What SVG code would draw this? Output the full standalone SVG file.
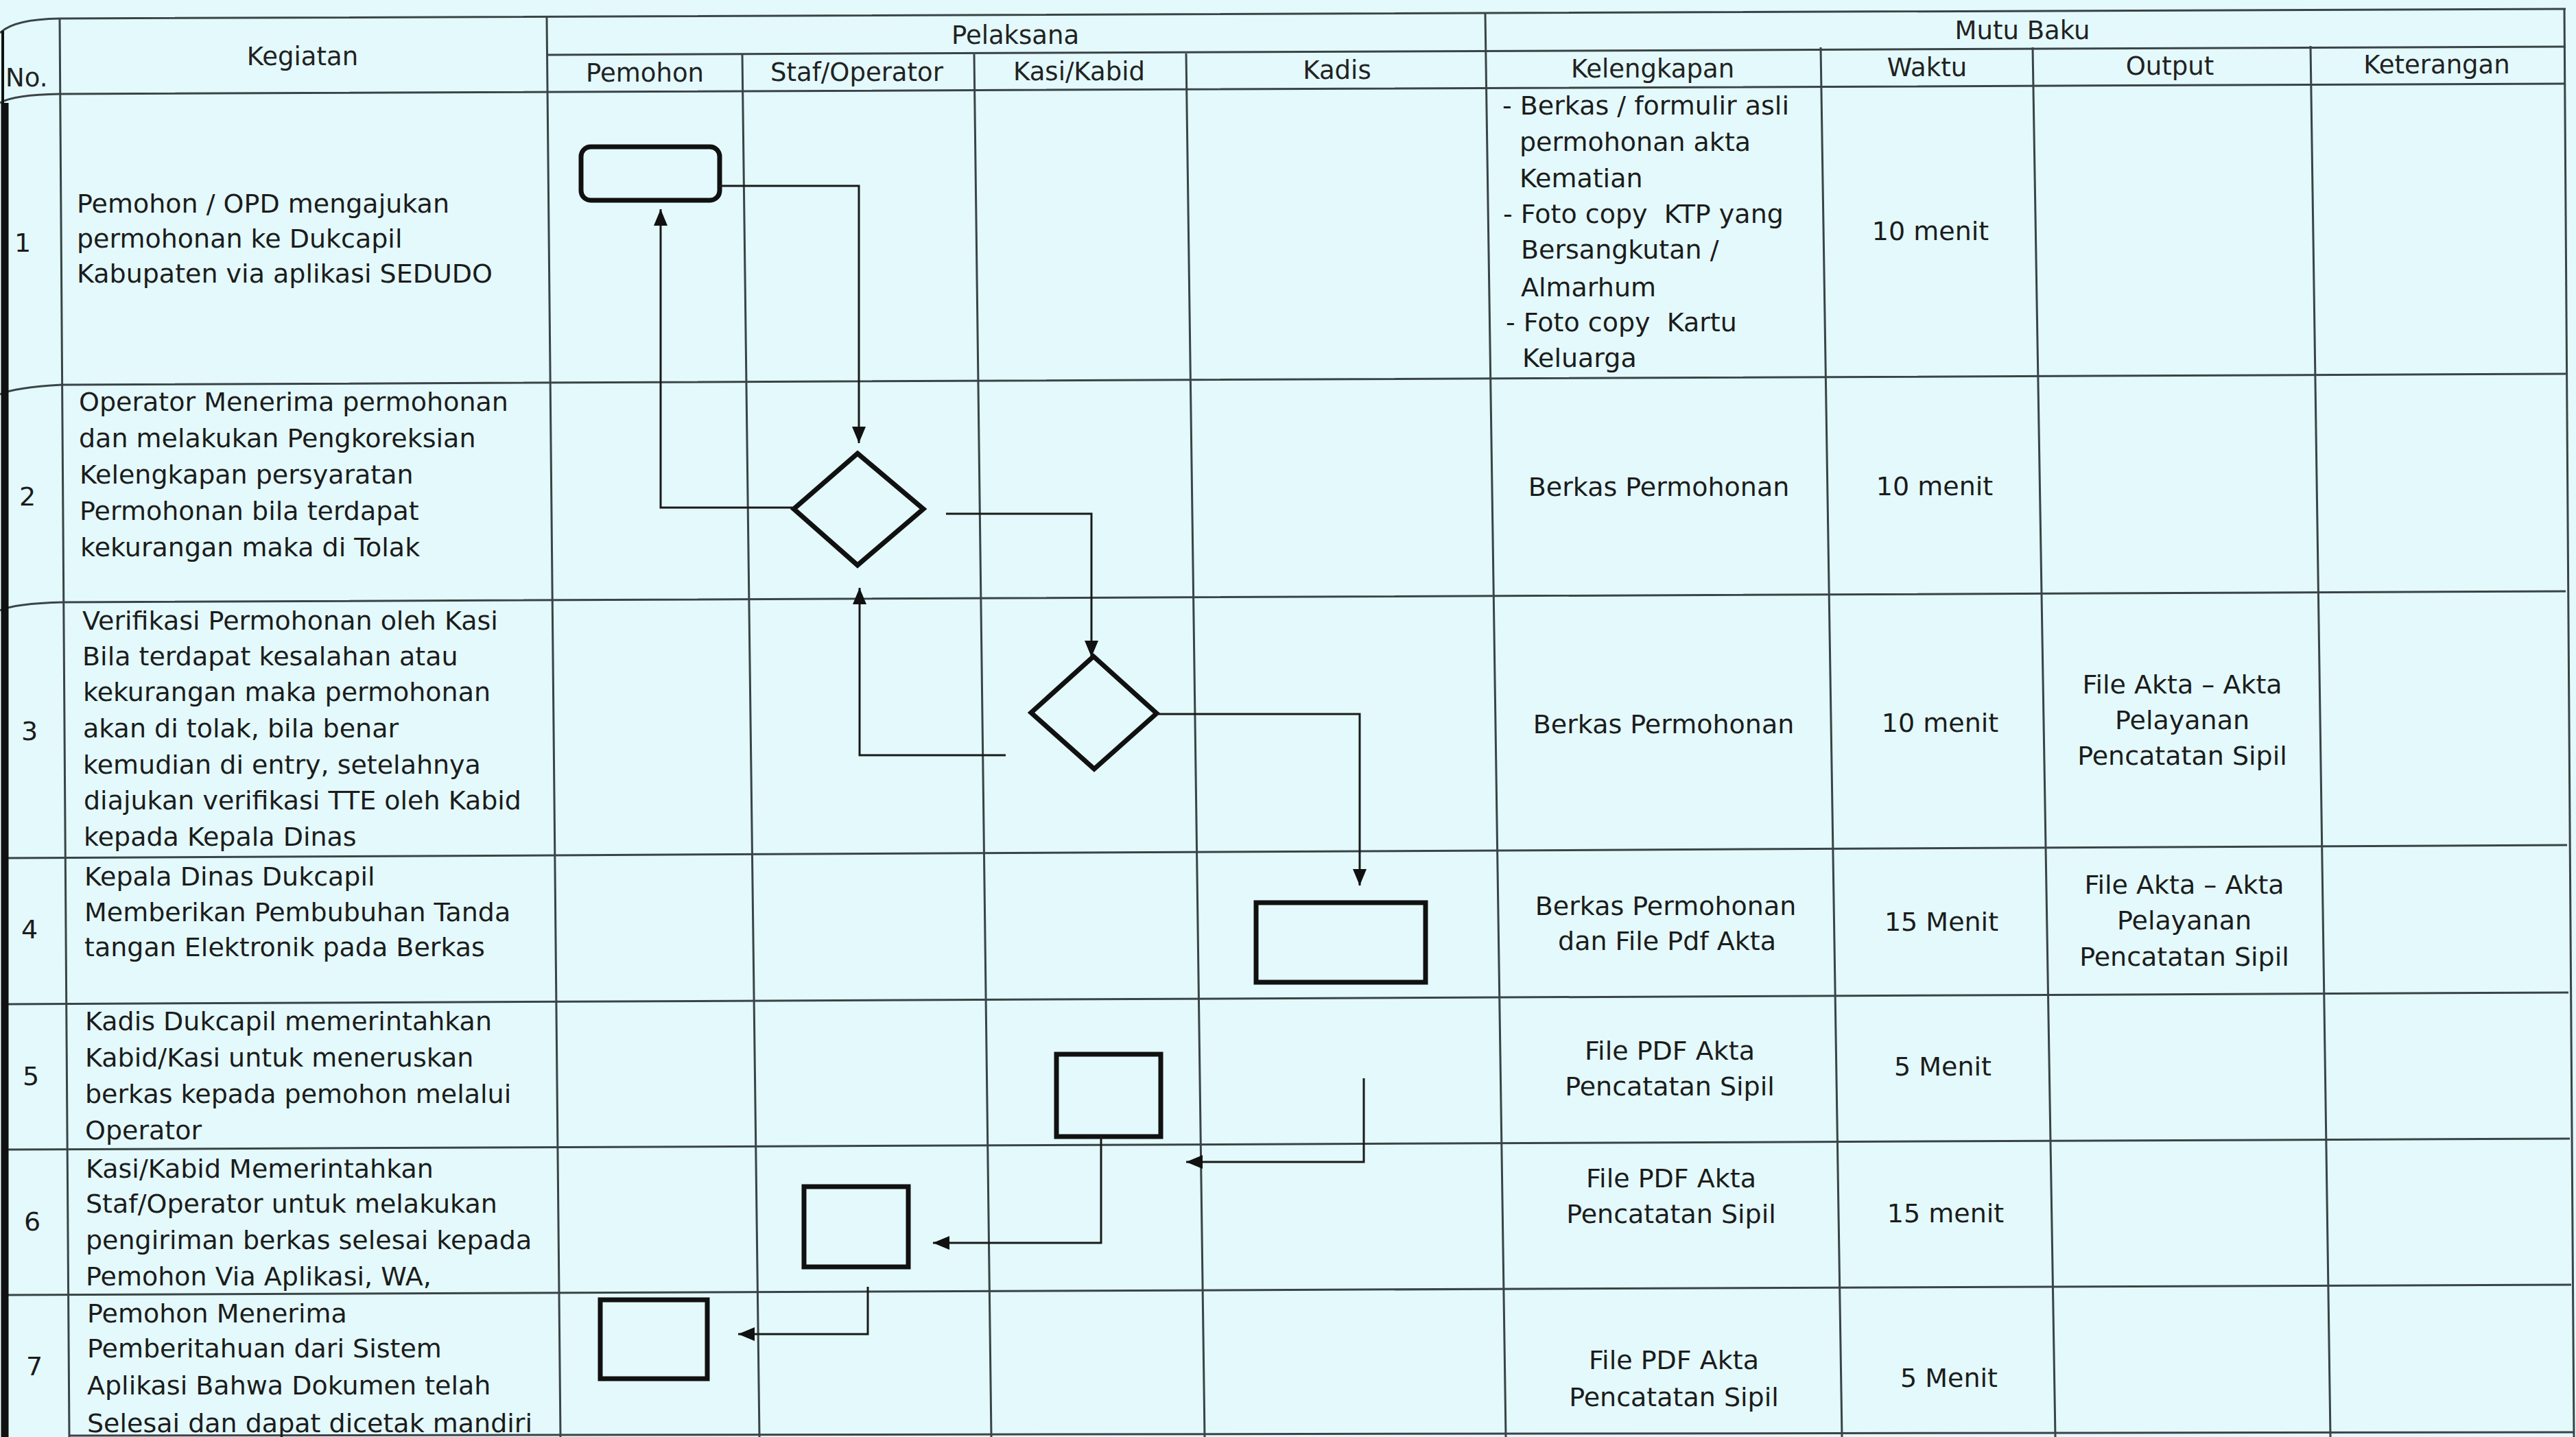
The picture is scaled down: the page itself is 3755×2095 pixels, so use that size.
<svg xmlns="http://www.w3.org/2000/svg" width="3755" height="2095" viewBox="0 0 3755 2095">
<style>
.bg{fill:#e3f9fb}
.grid{stroke:#3a4446;stroke-width:3;fill:none}
.edge{stroke:#111;fill:none}
.t{font-family:"DejaVu Sans","Liberation Sans",sans-serif;font-size:38px;fill:#1c1c1c}
.h{font-family:"DejaVu Sans","Liberation Sans",sans-serif;font-size:37px;fill:#222}
.c{text-anchor:middle}
.shape{fill:none;stroke:#111;stroke-width:7;stroke-linejoin:miter}
.conn{fill:none;stroke:#1a1a1a;stroke-width:3}
</style>
<defs>
<marker id="arr" markerUnits="userSpaceOnUse" markerWidth="24" markerHeight="20" refX="24" refY="10" orient="auto">
<path d="M0,0 L24,10 L0,20 z" fill="#111"/>
</marker>
</defs>
<rect class="bg" x="0" y="0" width="3755" height="2095"/>
<g id="grid">
<path class="grid" d="M0,48 Q20,28 87,27 L3740,13"/>
<path class="grid" d="M797,80 L3740,68"/>
<path class="grid" d="M0,150 Q20,138 87,137 L3740,122"/>
<path class="grid" d="M0,575 Q20,565 90,561 L3740,545"/>
<path class="grid" d="M0,890 Q20,880 92,878 L3740,862"/>
<path class="grid" d="M4,1251 L3742,1232"/>
<path class="grid" d="M4,1464 L3744,1447"/>
<path class="grid" d="M4,1676 L3746,1660"/>
<path class="grid" d="M4,1888 L3748,1873"/>
<path class="grid" d="M100,2093 L3752,2088"/>
<path class="grid" d="M87,27 L101,2095"/>
<path class="grid" d="M797,25 L817,2095"/>
<path class="grid" d="M1082,80 L1107,2095"/>
<path class="grid" d="M1420,79 L1445,2095"/>
<path class="grid" d="M1729,78 L1756,2095"/>
<path class="grid" d="M2165,20 L2195,2095"/>
<path class="grid" d="M2654,69 L2685,2095"/>
<path class="grid" d="M2963,69 L2996,2095"/>
<path class="grid" d="M3368,67 L3397,2095"/>
<path class="grid" d="M3738,12 L3752,2095"/>
<path class="edge" stroke-width="4" d="M4,45 L4,150"/>
<path class="edge" stroke-width="11" d="M7,150 L7,2095"/>
</g>
<g id="header">
<text class="h" x="8" y="126" font-size="30">No.</text>
<text class="h c" x="441" y="95">Kegiatan</text>
<text class="h c" x="1480" y="64">Pelaksana</text>
<text class="h c" x="2948" y="57">Mutu Baku</text>
<text class="h c" x="940" y="119">Pemohon</text>
<text class="h c" x="1249" y="118">Staf/Operator</text>
<text class="h c" x="1573" y="117">Kasi/Kabid</text>
<text class="h c" x="1949" y="115">Kadis</text>
<text class="h c" x="2409" y="113">Kelengkapan</text>
<text class="h c" x="2809" y="111">Waktu</text>
<text class="h c" x="3163" y="109">Output</text>
<text class="h c" x="3552" y="107">Keterangan</text>
</g>
<g id="row1">
<text class="t c" x="33" y="367">1</text>
<text class="t" x="112"><tspan x="112" y="310">Pemohon / OPD mengajukan</tspan><tspan x="112" y="361">permohonan ke Dukcapil</tspan><tspan x="112" y="412">Kabupaten via aplikasi SEDUDO</tspan></text>
<text class="t" x="2190"><tspan x="2190" y="167">- Berkas / formulir asli</tspan><tspan x="2215" y="220">permohonan akta</tspan><tspan x="2215" y="273">Kematian</tspan><tspan x="2191" y="325">- Foto copy&#160; KTP yang</tspan><tspan x="2217" y="377">Bersangkutan /</tspan><tspan x="2217" y="432">Almarhum</tspan><tspan x="2195" y="483">- Foto copy&#160; Kartu</tspan><tspan x="2219" y="535">Keluarga</tspan></text>
<text class="t c" x="2814" y="350">10 menit</text>
</g>
<g id="row2">
<text class="t c" x="40" y="737">2</text>
<text class="t" x="115"><tspan x="115" y="599">Operator Menerima permohonan</tspan><tspan x="115" y="652">dan melakukan Pengkoreksian</tspan><tspan x="116" y="705">Kelengkapan persyaratan</tspan><tspan x="116" y="758">Permohonan bila terdapat</tspan><tspan x="117" y="811">kekurangan maka di Tolak</tspan></text>
<text class="t c" x="2418" y="723">Berkas Permohonan</text>
<text class="t c" x="2820" y="722">10 menit</text>
</g>
<g id="row3">
<text class="t c" x="43" y="1079">3</text>
<text class="t" x="120"><tspan x="120" y="918">Verifikasi Permohonan oleh Kasi</tspan><tspan x="120" y="970">Bila terdapat kesalahan atau</tspan><tspan x="121" y="1022">kekurangan maka permohonan</tspan><tspan x="121" y="1075">akan di tolak, bila benar</tspan><tspan x="121" y="1128">kemudian di entry, setelahnya</tspan><tspan x="122" y="1180">diajukan verifikasi TTE oleh Kabid</tspan><tspan x="122" y="1233">kepada Kepala Dinas</tspan></text>
<text class="t c" x="2425" y="1069">Berkas Permohonan</text>
<text class="t c" x="2828" y="1067">10 menit</text>
<text class="t c" x="3181"><tspan x="3181" y="1011">File Akta – Akta</tspan><tspan x="3181" y="1063">Pelayanan</tspan><tspan x="3181" y="1115">Pencatatan Sipil</tspan></text>
</g>
<g id="row4">
<text class="t c" x="43" y="1368">4</text>
<text class="t" x="123"><tspan x="123" y="1291">Kepala Dinas Dukcapil</tspan><tspan x="123" y="1343">Memberikan Pembubuhan Tanda</tspan><tspan x="123" y="1394">tangan Elektronik pada Berkas</tspan></text>
<text class="t c" x="2428"><tspan x="2428" y="1334">Berkas Permohonan</tspan><tspan x="2430" y="1385">dan File Pdf Akta</tspan></text>
<text class="t c" x="2830" y="1357">15 Menit</text>
<text class="t c" x="3184"><tspan x="3184" y="1303">File Akta – Akta</tspan><tspan x="3184" y="1355">Pelayanan</tspan><tspan x="3184" y="1408">Pencatatan Sipil</tspan></text>
</g>
<g id="row5">
<text class="t c" x="45" y="1582">5</text>
<text class="t" x="124"><tspan x="124" y="1502">Kadis Dukcapil memerintahkan</tspan><tspan x="124" y="1555">Kabid/Kasi untuk meneruskan</tspan><tspan x="124" y="1608">berkas kepada pemohon melalui</tspan><tspan x="124" y="1661">Operator</tspan></text>
<text class="t c" x="2434"><tspan x="2434" y="1545">File PDF Akta</tspan><tspan x="2434" y="1597">Pencatatan Sipil</tspan></text>
<text class="t c" x="2832" y="1568">5 Menit</text>
</g>
<g id="row6">
<text class="t c" x="47" y="1794">6</text>
<text class="t" x="125"><tspan x="125" y="1717">Kasi/Kabid Memerintahkan</tspan><tspan x="125" y="1768">Staf/Operator untuk melakukan</tspan><tspan x="125" y="1821">pengiriman berkas selesai kepada</tspan><tspan x="125" y="1874">Pemohon Via Aplikasi, WA,</tspan></text>
<text class="t c" x="2436"><tspan x="2436" y="1731">File PDF Akta</tspan><tspan x="2436" y="1783">Pencatatan Sipil</tspan></text>
<text class="t c" x="2836" y="1782">15 menit</text>
</g>
<g id="row7">
<text class="t c" x="50" y="2005">7</text>
<text class="t" x="127"><tspan x="127" y="1928">Pemohon Menerima</tspan><tspan x="127" y="1979">Pemberitahuan dari Sistem</tspan><tspan x="127" y="2033">Aplikasi Bahwa Dokumen telah</tspan><tspan x="127" y="2088">Selesai dan dapat dicetak mandiri</tspan></text>
<text class="t c" x="2440"><tspan x="2440" y="1996">File PDF Akta</tspan><tspan x="2440" y="2050">Pencatatan Sipil</tspan></text>
<text class="t c" x="2841" y="2022">5 Menit</text>
</g>
<g id="node-start-pemohon"><rect class="shape" x="847" y="214" width="202" height="78" rx="14"/></g>
<g id="node-decision-operator"><polygon class="shape" points="1250,661 1346,742 1250,824 1157,742"/></g>
<g id="node-decision-kasi"><polygon class="shape" points="1594,957 1686,1040 1595,1121 1503,1039"/></g>
<g id="node-tte-kadis"><rect class="shape" x="1831" y="1316" width="247" height="116"/></g>
<g id="node-forward-kasi"><rect class="shape" x="1540" y="1537" width="152" height="120"/></g>
<g id="node-send-staf"><rect class="shape" x="1172" y="1730" width="152" height="117"/></g>
<g id="node-receive-pemohon"><rect class="shape" x="875" y="1895" width="156" height="115"/></g>
<g id="connectors">
<path class="conn" marker-end="url(#arr)" d="M1049,271 H1252 V646"/>
<path class="conn" marker-end="url(#arr)" d="M1157,740 H963 V305"/>
<path class="conn" marker-end="url(#arr)" d="M1379,749 H1591 V958"/>
<path class="conn" marker-end="url(#arr)" d="M1466,1101 H1253 V857"/>
<path class="conn" marker-end="url(#arr)" d="M1686,1041 H1982 V1291"/>
<path class="conn" marker-end="url(#arr)" d="M1988,1572 V1694 H1729"/>
<path class="conn" marker-end="url(#arr)" d="M1605,1657 V1812 H1360"/>
<path class="conn" marker-end="url(#arr)" d="M1265,1876 V1945 H1076"/>
</g>
</svg>
